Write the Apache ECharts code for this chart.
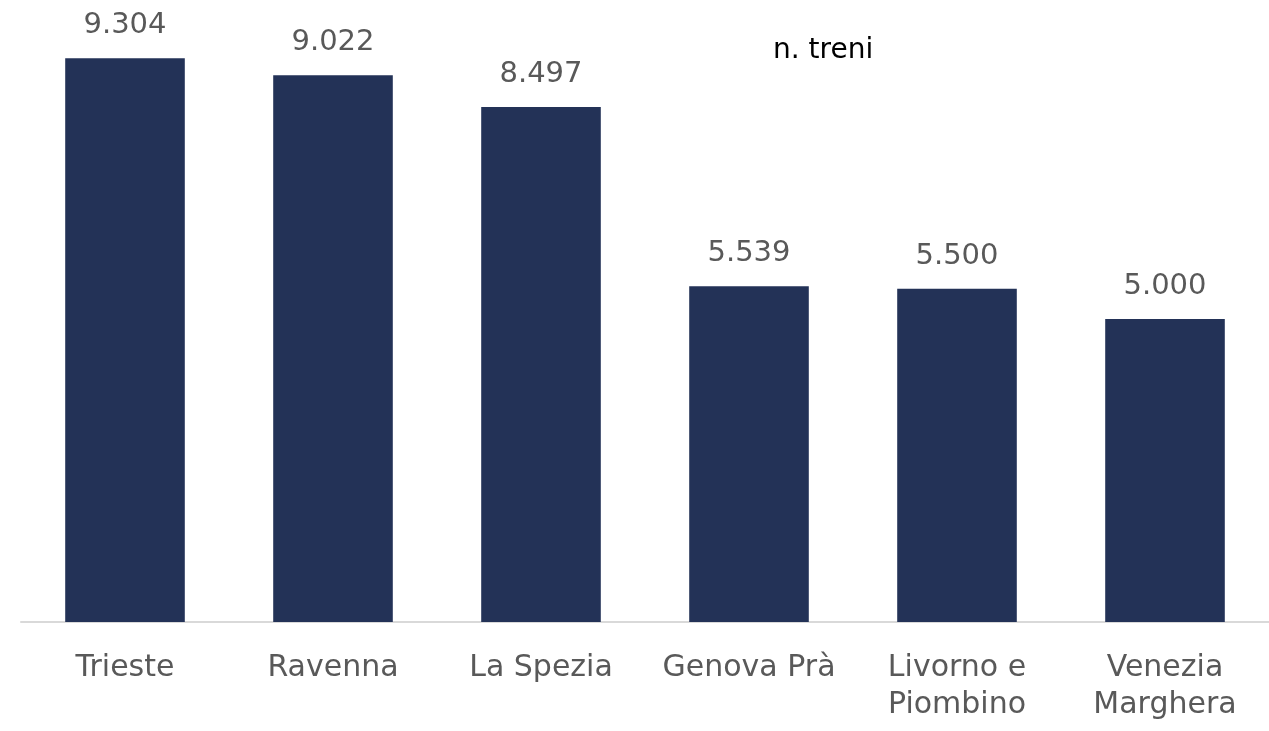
<!DOCTYPE html>
<html>
<head>
<meta charset="utf-8">
<script src="https://cdn.jsdelivr.net/npm/echarts@6/dist/echarts.min.js"></script>
<style>
  html, body { margin: 0; padding: 0; background: #fff; }
  #main { width: 1269px; height: 731px; }
</style>
</head>
<body>
<div id="main"></div>
<script>
  // porti e numero di treni
  var porti = ['Trieste', 'Ravenna', 'La Spezia', 'Genova Prà', 'Livorno e\nPiombino', 'Venezia\nMarghera']
  var treni = [9304, 9022, 8497, 5539, 5500, 5000]

  var myChart = echarts.init(document.getElementById('main'))
  var font = '"DejaVu Sans", sans-serif'
  var option = {
    animation: false,
    title: {
      text: 'n. treni',
      left: 768,
      top: 32,
      textStyle: { fontFamily: font, fontSize: 28, fontWeight: 'normal', color: '#000' }
    },
    grid: { left: 21, right: 0, top: 16, bottom: 109 },
    xAxis: {
      type: 'category',
      data: porti,
      axisLine: { lineStyle: { color: '#d9d9d9', width: 2 } },
      axisTick: { show: false },
      axisLabel: {
        color: '#595959',
        fontFamily: font,
        fontSize: 30,
        lineHeight: 37,
        margin: 28,
        interval: 0
      }
    },
    yAxis: {
      type: 'value',
      min: 0,
      max: 10000,
      show: false,
      splitLine: { show: false }
    },
    series: [{
      type: 'bar',
      data: treni,
      barWidth: '57.5%',
      itemStyle: { color: '#233257' },
      label: {
        show: true,
        position: 'top',
        distance: 18,
        color: '#595959',
        fontFamily: font,
        fontSize: 29,
        formatter: function (p) {
          return p.value.toLocaleString('it-IT').replace(/,/g, '.')
        }
      }
    }]
  }
  myChart.setOption(option)
</script>
</body>
</html>
